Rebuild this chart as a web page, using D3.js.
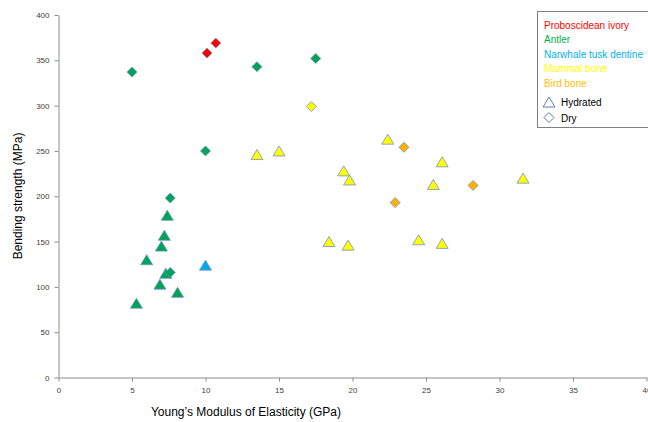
<!DOCTYPE html>
<html>
<head>
<meta charset="utf-8">
<script src="https://cdn.jsdelivr.net/npm/d3@7"></script>
<style>
  body { margin: 0; background: #fff; }
  svg { display: block; font-family: "Liberation Sans", Arial, sans-serif; }
  .axis path, .axis line { stroke: #8c8c8c; }
  .axis text { fill: #404040; font-size: 8px; }
</style>
</head>
<body>
<svg width="648" height="422"></svg>
<script>
// groups shown in the legend
const groups = ['Proboscidean ivory', 'Antler', 'Narwhale tusk dentine', 'Mammal bone', 'Bird bone'];
const states = ['Hydrated', 'Dry'];

// [Young's modulus (GPa), bending strength (MPa)]
const ivoryDry = [[10.1, 358], [10.7, 369]];
const antlerDry = [[5.0, 337], [13.5, 343], [17.5, 352], [10.0, 250], [7.6, 198], [7.6, 116]];
const antlerHydrated = [[7.4, 179], [7.2, 157], [7.0, 145], [6.0, 130], [7.3, 115], [6.9, 103], [8.1, 94], [5.3, 82]];
const narwhalHydrated = [[10.0, 124]];
const mammalDry = [[17.2, 299]];
const mammalHydrated = [[13.5, 246], [15.0, 250], [22.4, 263], [26.1, 238], [19.4, 228], [19.8, 218],
  [25.5, 213], [31.6, 220], [18.4, 150], [19.7, 146], [24.5, 152], [26.1, 148]];
const birdDry = [[23.5, 254], [28.2, 212], [22.9, 193]];

const xTicks = [0, 5, 10, 15, 20, 25, 30, 35, 40];
const yTicks = [0, 50, 100, 150, 200, 250, 300, 350, 400];

const textColor = {
  'Proboscidean ivory': '#ff0000',
  'Antler': '#00b050',
  'Narwhale tusk dentine': '#00b0f0',
  'Mammal bone': '#ffff00',
  'Bird bone': '#ffc000'
};
const markColor = {
  'Proboscidean ivory': '#ff0000',
  'Antler': '#00a357',
  'Narwhale tusk dentine': '#00a8ec',
  'Mammal bone': '#ffff00',
  'Bird bone': '#ffb000'
};

const series = [
  { group: 'Antler', state: 'Hydrated', data: antlerHydrated },
  { group: 'Narwhale tusk dentine', state: 'Hydrated', data: narwhalHydrated },
  { group: 'Mammal bone', state: 'Hydrated', data: mammalHydrated },
  { group: 'Proboscidean ivory', state: 'Dry', data: ivoryDry },
  { group: 'Antler', state: 'Dry', data: antlerDry },
  { group: 'Mammal bone', state: 'Dry', data: mammalDry },
  { group: 'Bird bone', state: 'Dry', data: birdDry }
];

const svg = d3.select('svg');

const x = d3.scaleLinear().domain([0, 40]).range([58.5, 646.5]);
const y = d3.scaleLinear().domain([0, 400]).range([377.5, 15]);

// marker shapes, centred on their bounding box
const shape = {
  Hydrated: 'M0,-5L6,5L-6,5Z',
  Dry: 'M0,-5L5,0L0,5L-5,0Z'
};

// axes
svg.append('g')
  .attr('class', 'axis')
  .attr('transform', `translate(0,${y(0)})`)
  .call(d3.axisBottom(x).tickValues(xTicks).tickSize(4).tickSizeOuter(0).tickPadding(6))
  .call(g => g.selectAll('text').attr('dy', '0.71em'));

svg.append('g')
  .attr('class', 'axis')
  .attr('transform', `translate(${x(0)},0)`)
  .call(d3.axisLeft(y).tickValues(yTicks).tickSize(4).tickSizeOuter(0).tickPadding(5));

// axis titles
svg.append('text')
  .attr('transform', `translate(22,196) rotate(-90)`)
  .attr('text-anchor', 'middle')
  .attr('font-size', 12)
  .attr('fill', '#000')
  .text('Bending strength (MPa)');

svg.append('text')
  .attr('x', 246)
  .attr('y', 416)
  .attr('text-anchor', 'middle')
  .attr('font-size', 12)
  .attr('fill', '#000')
  .text('Young\u2019s Modulus of Elasticity (GPa)');

// points
series.forEach(s => {
  svg.append('g')
    .selectAll('path')
    .data(s.data)
    .enter().append('path')
    .attr('d', shape[s.state])
    .attr('transform', d => `translate(${x(d[0])},${y(d[1])})`)
    .attr('fill', markColor[s.group])
    .attr('stroke', '#6f92c4')
    .attr('stroke-width', 0.8);
});

// legend
const legend = svg.append('g');
legend.append('rect')
  .attr('x', 537.5).attr('y', 11.5)
  .attr('width', 120).attr('height', 116)
  .attr('fill', '#fff')
  .attr('stroke', '#7f7f7f');

legend.selectAll('text.grp')
  .data(groups)
  .enter().append('text')
  .attr('class', 'grp')
  .attr('x', 544)
  .attr('y', (d, i) => 29 + i * 14.4)
  .attr('font-size', 10)
  .attr('fill', d => textColor[d])
  .text(d => d);

const stateRow = legend.selectAll('g.st')
  .data(states)
  .enter().append('g')
  .attr('class', 'st')
  .attr('transform', (d, i) => `translate(549,${102 + i * 15.5})`);

stateRow.append('path')
  .attr('d', d => shape[d])
  .attr('fill', 'none')
  .attr('stroke', '#5b7fae')
  .attr('stroke-width', 1);

stateRow.append('text')
  .attr('x', 12)
  .attr('y', 4)
  .attr('font-size', 10)
  .attr('fill', '#000')
  .text(d => d);
</script>
</body>
</html>
